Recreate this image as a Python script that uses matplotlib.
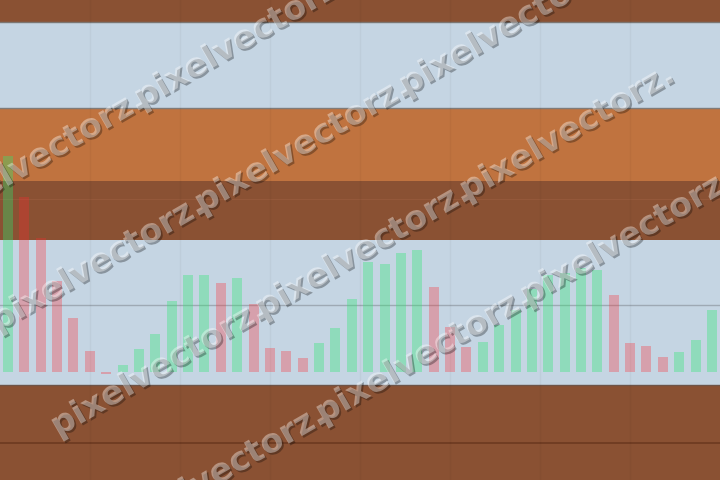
import matplotlib
matplotlib.use('Agg')
import math
import matplotlib.pyplot as plt
import matplotlib.patheffects as pe
from matplotlib.lines import Line2D

# ---- data ----
volumes = [216, 175, 134, 91, 54, 21, -2, 7, 23, 38, 71, 97, 97, 89, 94, 68,
           24, 21, 14, 29, 44, 73, 110, 108, 119, 122, 85, 45, 25, 30, 47, 62,
           83, 97, 99, 104, 102, 77, 29, 26, 15, 20, 32, 62]
direction = ['up', 'down', 'down', 'down', 'down', 'down', 'down',
             'up', 'up', 'up', 'up', 'up', 'up', 'down', 'up',
             'down', 'down', 'down', 'down',
             'up', 'up', 'up', 'up', 'up', 'up', 'up',
             'down', 'down', 'down',
             'up', 'up', 'up', 'up', 'up', 'up', 'up', 'up',
             'down', 'down', 'down', 'down',
             'up', 'up', 'up']
watermark = "pixelvectorz."

# background bands (value edges, top to bottom) and their colours
band_edges = [372, 350, 264, 191, 132, -13, -108]
band_colors = ['#8a5133', '#c5d5e3', '#c0733f', '#8a5133', '#c5d5e3', '#8a5133']

UP = (43/255, 233/255, 113/255, 0.35)
DOWN = (1.0, 40/255, 45/255, 0.30)

fig = plt.figure(figsize=(7.2, 4.8), dpi=100)
ax = fig.add_axes([0, 0, 1, 1])
ax.set_xlim(-0.489, 43.49)
ax.set_ylim(band_edges[-1], band_edges[0])
ax.axis('off')

for top, bot, c in zip(band_edges[:-1], band_edges[1:], band_colors):
    ax.axhspan(bot, top, color=c, lw=0, zorder=0)

# faint grid / separator lines
ax.axhline(350, color='#7c7672', lw=1.0, zorder=1)
ax.axhline(264, color='#7f7b79', lw=1.0, zorder=1)
ax.axhline(173, color='#94583a', lw=0.8, zorder=1)
ax.axhline(67, color='#9ea9b4', lw=1.0, zorder=1)
ax.axhline(-13, color='#6e5448', lw=1.0, zorder=1)
ax.axhline(-71, color='#6c3a20', lw=1.2, zorder=1)
for k in range(1, 8):
    ax.add_line(Line2D([k / 8, k / 8], [0, 1], transform=ax.transAxes,
                       color='black', alpha=0.035, lw=1, zorder=1))

x = list(range(len(volumes)))
colors = [UP if d == 'up' else DOWN for d in direction]
ax.bar(x, volumes, width=0.61, color=colors, lw=0, zorder=2)

# watermark: rows of three copies (start points in canvas pixels)
row_starts = [(-63, 227), (-2.5, 332), (58, 437), (118.5, 542)]
angle = 30
pitch = 236
dx = pitch * math.cos(math.radians(angle))
dy = pitch * math.sin(math.radians(angle))
for sx, sy in row_starts:
    for k in range(3):
        px, py = sx + k * dx, sy - k * dy
        ax.text(px / 720, 1 - py / 480, watermark, transform=ax.transAxes,
                fontsize=24, fontweight='bold', family='DejaVu Sans',
                color=(1, 1, 1, 0.38), rotation=angle, rotation_mode='anchor',
                ha='left', va='baseline', clip_on=True, zorder=5,
                path_effects=[pe.withSimplePatchShadow(offset=(1.3, -1.3),
                                                       shadow_rgbFace='black',
                                                       alpha=0.3)])

fig.savefig('out.png', dpi=100)
